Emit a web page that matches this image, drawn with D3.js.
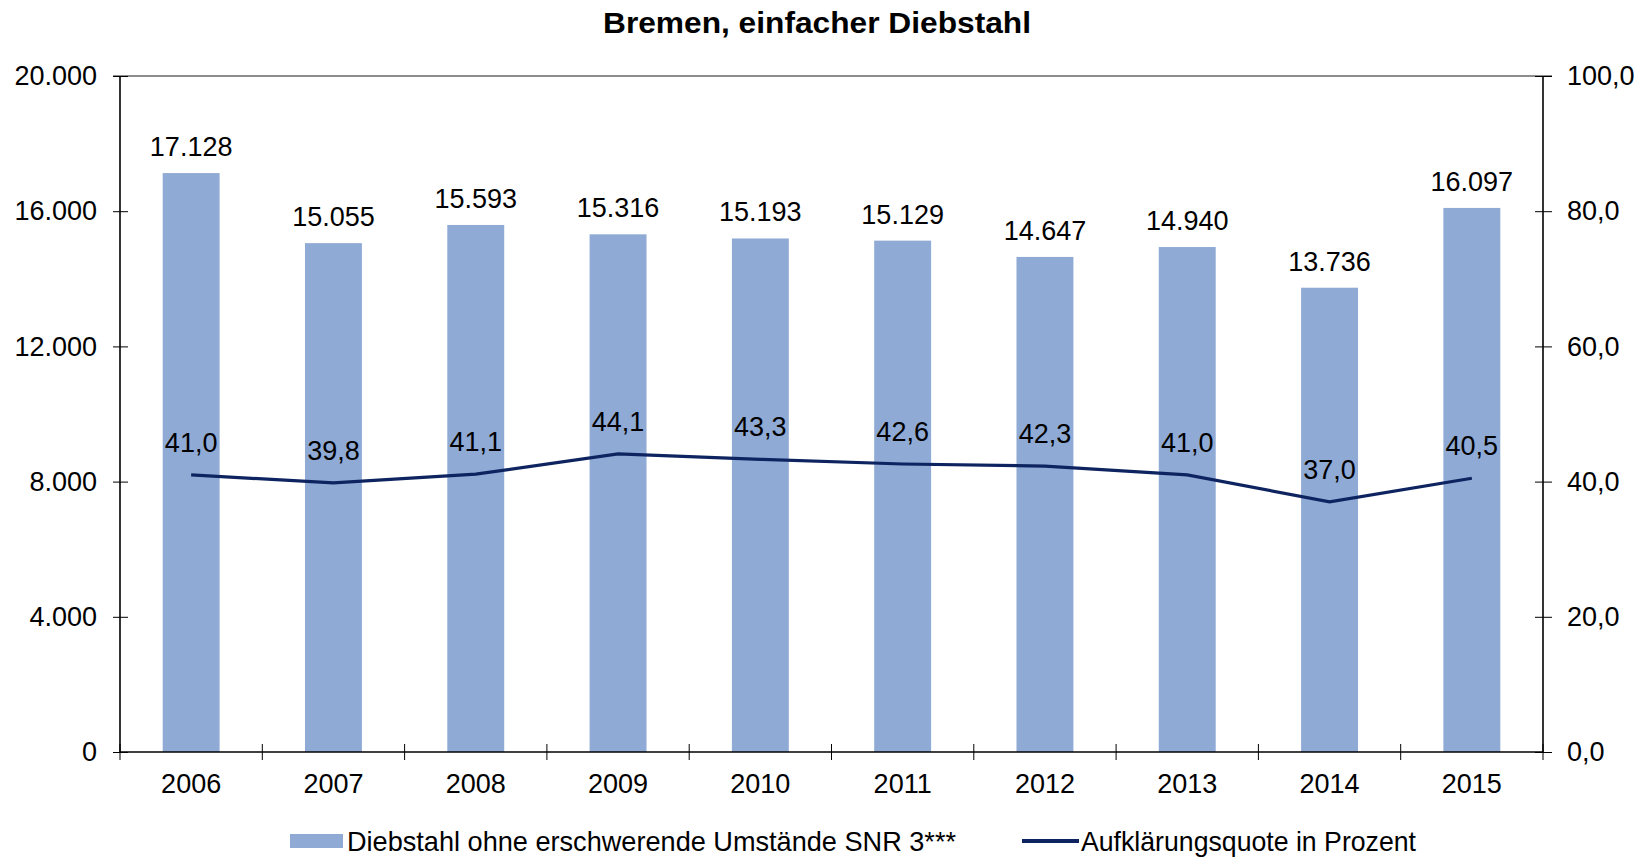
<!DOCTYPE html>
<html>
<head>
<meta charset="utf-8">
<script src="https://cdnjs.cloudflare.com/ajax/libs/d3/7.8.5/d3.min.js"></script>
<style>
  body { margin: 0; background: #fff; }
  svg text { font-family: "Liberation Sans", Arial, sans-serif; fill: #000; }
</style>
</head>
<body>
<svg id="chart" width="1643" height="857"></svg>
<script>
(function(){
    "use strict";

    var years = ["2006", "2007", "2008", "2009", "2010", "2011", "2012", "2013", "2014", "2015"];
    var cases = [17128, 15055, 15593, 15316, 15193, 15129, 14647, 14940, 13736, 16097];
    var rates = [41.0, 39.8, 41.1, 44.1, 43.3, 42.6, 42.3, 41.0, 37.0, 40.5];
    var leftTicks = [0, 4000, 8000, 12000, 16000, 20000];
    var rightTicks = [0, 20, 40, 60, 80, 100];

    var svg = d3.select("#chart");
    var m = {left: 120, right: 100, top: 76, bottom: 105};
    var W = 1643, H = 857;
    var x0 = m.left, x1 = W - m.right, y0 = H - m.bottom, y1 = m.top;

    var de = d3.formatLocale({decimal: ",", thousands: ".", grouping: [3], currency: ["", "€"]});
    var fmtInt = de.format(",d");
    var fmt1 = de.format(".1f");

    var x = d3.scaleBand().domain(years).range([x0, x1]).paddingInner(0.6).paddingOuter(0.3);
    var xb = d3.scaleBand().domain(years).range([x0, x1]);
    var yL = d3.scaleLinear().domain([0, 20000]).range([y0, y1]);
    var yR = d3.scaleLinear().domain([0, 100]).range([y0, y1]);

    // title
    svg.append("text")
        .attr("x", 817).attr("y", 33)
        .attr("text-anchor", "middle")
        .attr("textLength", 428).attr("lengthAdjust", "spacingAndGlyphs")
        .style("font-size", "30px").style("font-weight", "bold")
        .text("Bremen, einfacher Diebstahl");

    // bars
    svg.selectAll("rect.bar")
        .data(cases)
        .enter()
        .append("rect")
        .attr("class", "bar")
        .attr("x", function(d, i) { return x(years[i]); })
        .attr("width", x.bandwidth())
        .attr("y", function(d) { return yL(d); })
        .attr("height", function(d) { return y0 - yL(d); })
        .attr("fill", "#8FAAD5");

    // top frame line (gray)
    svg.append("line")
        .attr("x1", x0 - 7).attr("x2", x1 + 9)
        .attr("y1", y1).attr("y2", y1)
        .attr("stroke", "#8c8c8c").attr("stroke-width", 2);

    // left axis
    var gL = svg.append("g").attr("transform", "translate(" + x0 + ",0)")
        .call(d3.axisLeft(yL).tickValues(leftTicks).tickFormat(fmtInt).tickSize(7).tickPadding(16));
    gL.selectAll(".tick line").attr("x2", 8).attr("x1", -7);

    // right axis
    var gR = svg.append("g").attr("transform", "translate(" + x1 + ",0)")
        .call(d3.axisRight(yR).tickValues(rightTicks).tickFormat(fmt1).tickSize(9).tickPadding(15));
    gR.selectAll(".tick line").attr("x1", -8);

    // bottom axis
    var gB = svg.append("g").attr("transform", "translate(0," + y0 + ")")
        .call(d3.axisBottom(xb).tickSize(0).tickPadding(22));
    gB.selectAll(".tick text").attr("dy", "0.71em");
    gB.selectAll("line.sep")
        .data(d3.range(years.length + 1))
        .enter()
        .append("line")
        .attr("class", "sep")
        .attr("x1", function(i) { return x0 + i * xb.step(); })
        .attr("x2", function(i) { return x0 + i * xb.step(); })
        .attr("y1", -8).attr("y2", 8)
        .attr("stroke", "#000");

    [gL, gR, gB].forEach(function(g) {
        g.select(".domain").attr("stroke", "#000").attr("stroke-width", 1.6);
        g.selectAll(".tick line").attr("stroke", "#000");
        g.selectAll("text").style("font-size", "27px").attr("fill", "#000")
            .style("font-family", "'Liberation Sans', Arial, sans-serif");
    });
    gL.select(".domain").attr("d", "M0," + y1 + "V" + y0);
    gR.select(".domain").attr("d", "M0," + y1 + "V" + y0);
    gB.select(".domain").attr("d", "M" + x0 + ",0H" + x1);

    // line
    var line = d3.line()
        .x(function(d, i) { return xb(years[i]) + xb.bandwidth() / 2; })
        .y(function(d) { return yR(d); });

    svg.append("path")
        .datum(rates)
        .attr("d", line)
        .attr("fill", "none")
        .attr("stroke", "#0E2461")
        .attr("stroke-width", 3.2);

    // bar labels
    svg.selectAll("text.blab")
        .data(cases)
        .enter()
        .append("text")
        .attr("class", "blab")
        .attr("x", function(d, i) { return x(years[i]) + x.bandwidth() / 2; })
        .attr("y", function(d) { return yL(d) - 17; })
        .attr("text-anchor", "middle")
        .style("font-size", "27px")
        .text(function(d) { return fmtInt(d); });

    // line labels
    svg.selectAll("text.llab")
        .data(rates)
        .enter()
        .append("text")
        .attr("class", "llab")
        .attr("x", function(d, i) { return xb(years[i]) + xb.bandwidth() / 2; })
        .attr("y", function(d) { return yR(d) - 23; })
        .attr("text-anchor", "middle")
        .style("font-size", "27px")
        .text(function(d) { return fmt1(d); });

    // legend
    var lg = svg.append("g");
    lg.append("rect")
        .attr("x", 290).attr("y", 834).attr("width", 53).attr("height", 14)
        .attr("fill", "#8FAAD5");
    lg.append("text")
        .attr("x", 347).attr("y", 851)
        .attr("textLength", 609).attr("lengthAdjust", "spacingAndGlyphs")
        .style("font-size", "28px")
        .text("Diebstahl ohne erschwerende Umstände SNR 3***");
    lg.append("line")
        .attr("x1", 1022).attr("x2", 1079).attr("y1", 841).attr("y2", 841)
        .attr("stroke", "#0E2461").attr("stroke-width", 4);
    lg.append("text")
        .attr("x", 1081).attr("y", 851)
        .attr("textLength", 335).attr("lengthAdjust", "spacingAndGlyphs")
        .style("font-size", "28px")
        .text("Aufklärungsquote in Prozent");
}());
</script>
</body>
</html>
